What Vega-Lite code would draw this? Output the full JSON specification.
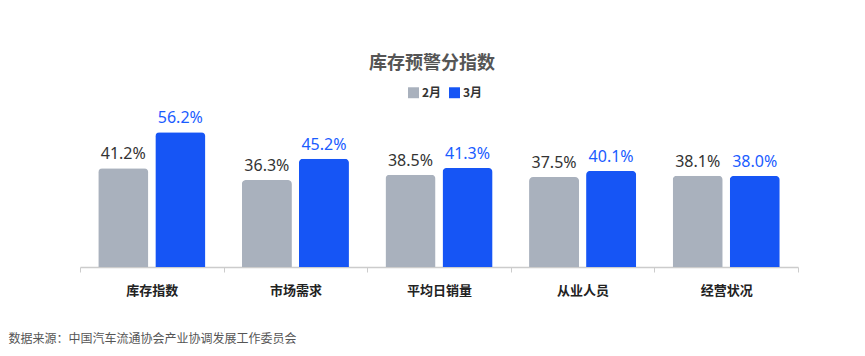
{
  "$schema": "https://vega.github.io/schema/vega-lite/v6.json",
  "autosize": "none",
  "width": 718,
  "height": 163,
  "padding": {"left": 80, "top": 104, "right": 67, "bottom": 89},
  "background": "white",
  "config": {"view": {"stroke": null}, "font": "Noto Sans CJK SC"},
  "title": {
    "text": "库存预警分指数",
    "anchor": "middle",
    "fontSize": 18,
    "fontWeight": "bold",
    "color": "#555555",
    "offset": 13,
    "dx": -7
  },
  "data": {
    "values": [
      {"cat": "库存指数", "month": "2月", "value": 41.2, "label": "41.2%"},
      {"cat": "库存指数", "month": "3月", "value": 56.2, "label": "56.2%"},
      {"cat": "市场需求", "month": "2月", "value": 36.3, "label": "36.3%"},
      {"cat": "市场需求", "month": "3月", "value": 45.2, "label": "45.2%"},
      {"cat": "平均日销量", "month": "2月", "value": 38.5, "label": "38.5%"},
      {"cat": "平均日销量", "month": "3月", "value": 41.3, "label": "41.3%"},
      {"cat": "从业人员", "month": "2月", "value": 37.5, "label": "37.5%"},
      {"cat": "从业人员", "month": "3月", "value": 40.1, "label": "40.1%"},
      {"cat": "经营状况", "month": "2月", "value": 38.1, "label": "38.1%"},
      {"cat": "经营状况", "month": "3月", "value": 38.0, "label": "38.0%"}
    ]
  },
  "encoding": {
    "x": {
      "field": "cat",
      "type": "nominal",
      "sort": null,
      "scale": {"paddingInner": 0, "paddingOuter": 0},
      "axis": {
        "title": "数据来源：中国汽车流通协会产业协调发展工作委员会",
        "titleAnchor": "start",
        "titleX": -72,
        "titleY": 71,
        "titleBaseline": "middle",
        "titleFontSize": 12,
        "titleFontWeight": "normal",
        "titleColor": "#555555",
        "labelAngle": 0,
        "labelFontSize": 13,
        "labelFontWeight": "bold",
        "labelColor": "#222222",
        "labelPadding": 12,
        "domainColor": "#cccccc",
        "tickColor": "#cccccc",
        "tickBand": "extent",
        "tickSize": 5,
        "domainWidth": 1.5
      }
    },
    "xOffset": {
      "field": "month",
      "type": "nominal",
      "scale": {"paddingInner": 0.123, "paddingOuter": 0.32}
    },
    "y": {
      "field": "value",
      "type": "quantitative",
      "scale": {"domain": [0, 68]},
      "axis": null
    }
  },
  "layer": [
    {
      "mark": {"type": "bar", "cornerRadiusTopLeft": 4, "cornerRadiusTopRight": 4},
      "encoding": {
        "color": {
          "field": "month",
          "type": "nominal",
          "scale": {"domain": ["2月", "3月"], "range": ["#a9b1bd", "#1655f5"]},
          "legend": {
            "title": null,
            "orient": "none",
            "direction": "horizontal",
            "legendX": 327,
            "legendY": -18,
            "symbolType": "square",
            "symbolSize": 120,
            "labelFontSize": 12,
            "labelFontWeight": "bold",
            "labelColor": "#333333",
            "labelOffset": 2,
            "columnPadding": 6
          }
        }
      }
    },
    {
      "mark": {"type": "text", "baseline": "bottom", "dy": -6, "fontSize": 16, "font": "Noto Sans"},
      "encoding": {
        "text": {"field": "label", "type": "nominal"},
        "color": {"condition": {"test": "datum.month === '3月'", "value": "#1a5cff"}, "value": "#333333"}
      }
    }
  ]
}
